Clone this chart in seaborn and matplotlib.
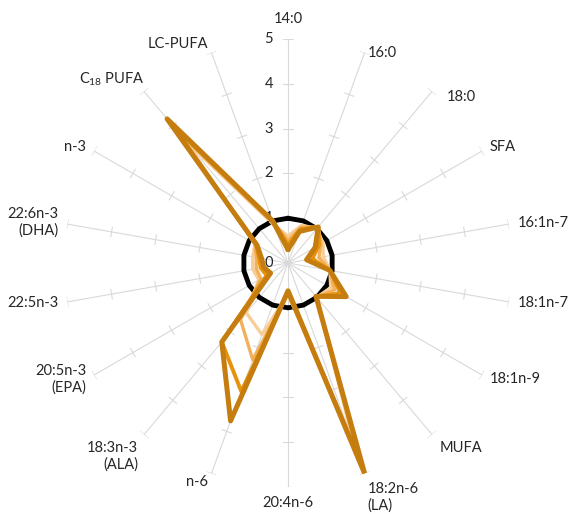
import numpy as np
import pandas as pd
import matplotlib
matplotlib.use("Agg")
import matplotlib.pyplot as plt
import matplotlib.transforms as mtrans
import seaborn as sns

# axes of the radar, clockwise from the top
categories = ["14:0", "16:0", "18:0", "SFA", "16:1n-7", "18:1n-7", "18:1n-9",
              "MUFA", "18:2n-6\n(LA)", "20:4n-6", "n-6", "18:3n-3\n(ALA)",
              "20:5n-3\n(EPA)", "22:5n-3", "22:6n-3\n(DHA)", "n-3",
              "C$_{18}$ PUFA", "LC-PUFA"]

# reference level (black) and four treatments, light -> dark
reference = [1.0] * 18
series_1 = [0.60, 0.90, 1.00, 0.90, 0.80, 0.95, 1.10, 1.00, 4.30, 0.70,
            1.70, 1.45, 0.75, 0.80, 0.80, 0.85, 3.60, 0.90]
series_2 = [0.50, 0.85, 1.05, 0.85, 0.70, 0.95, 1.20, 1.00, 4.60, 0.68,
            2.30, 1.65, 0.70, 0.72, 0.72, 0.85, 3.80, 0.95]
series_3 = [0.40, 0.80, 1.05, 0.80, 0.55, 0.95, 1.35, 0.98, 4.85, 0.65,
            3.05, 2.30, 0.55, 0.62, 0.66, 0.82, 4.00, 1.00]
series_4 = [0.30, 0.75, 1.05, 0.70, 0.42, 0.95, 1.50, 0.97, 5.00, 0.62,
            3.75, 2.30, 0.45, 0.55, 0.60, 0.80, 4.20, 1.00]
radial_ticks = [0, 1, 2, 3, 4, 5]

sns.set_style("white")
plt.rcParams["font.family"] = ["Lato", "DejaVu Sans"]
plt.rcParams["mathtext.fontset"] = "custom"
plt.rcParams["mathtext.rm"] = "Lato"

n = len(categories)
theta = np.deg2rad(np.arange(n) * 360.0 / n)
theta_closed = np.append(theta, 2 * np.pi)

fig = plt.figure(figsize=(5.70, 5.14), dpi=100)
ax = fig.add_axes([0.1123, 0.0525, 0.786, 0.8716], projection="polar")
ax.set_theta_zero_location("N")
ax.set_theta_direction(-1)

# spokes with small cross ticks
grid_c = "#d9d9d9"
for th in theta:
    ax.plot([th, th], [0, 5], color=grid_c, lw=0.8, zorder=1)
    for r in radial_ticks[1:]:
        h = 0.11
        dth = np.arctan(h / r)
        rr = np.hypot(r, h)
        ax.plot([th - dth, th + dth], [rr, rr], color=grid_c, lw=0.8, zorder=1)

lines = [
    (reference, "black", 3.5, 2),
    (series_1, "#f8cd96", 2.4, 3),
    (series_2, "#f2b05a", 2.4, 4),
    (series_3, "#e8920c", 2.8, 5),
    (series_4, "#c47d0e", 3.6, 6),
]
for vals, col, lw, z in lines:
    df = pd.DataFrame({"theta": theta_closed, "value": np.append(vals, vals[0])})
    sns.lineplot(data=df, x="theta", y="value", ax=ax, sort=False,
                 estimator=None, color=col, linewidth=lw, zorder=z)

ax.set_ylim(0, 5)
ax.set_xticks([])
ax.set_yticks([])
ax.grid(False)
ax.spines["polar"].set_visible(False)
ax.set_xlabel("")
ax.set_ylabel("")
ax.patch.set_alpha(0)

# small nudges (pixels) for a few labels
nudge = {"16:0": (0, -9), "18:0": (9, -12), "MUFA": (2, -7), "C$_{18}$ PUFA": (6, 5)}

# category labels
fs = 10.5
for th, lab in zip(theta, categories):
    s = np.sin(th)
    c = np.cos(th)
    if s > 0.1:
        ha = "left"
    elif s < -0.1:
        ha = "right"
    else:
        ha = "center"
    va = "center"
    r = 5.2
    if c > 0.99:
        va = "bottom"
        r = 5.3
    elif c < -0.99:
        va = "top"
    if lab.startswith("18:2n-6") or lab.startswith("18:3n-3"):
        va = "top"
    dx, dy = nudge.get(lab, (0, 0))
    tr = mtrans.offset_copy(ax.transData, fig=fig, x=dx, y=dy, units="dots")
    ax.text(th, r, lab, transform=tr, ha=ha, va=va, fontsize=fs,
            multialignment=ha if ha != "center" else "center", clip_on=False)

# radial value labels beside the top spoke
off = mtrans.offset_copy(ax.transData, fig=fig, x=-15, y=0, units="dots")
for v in radial_ticks:
    ax.text(0, v, str(v), transform=off, ha="right", va="center", fontsize=fs)

fig.savefig("out.png", dpi=100)
